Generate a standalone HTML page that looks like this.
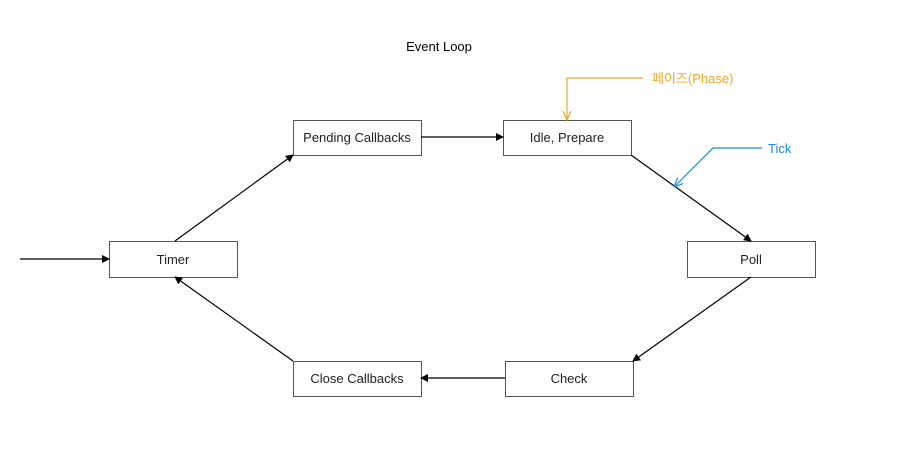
<!DOCTYPE html>
<html><head><meta charset="utf-8"><style>
body{margin:0;background:#fff;}
svg text{font-family:"Liberation Sans","Noto Sans CJK KR",sans-serif;}
</style></head><body>
<svg width="917" height="465" viewBox="0 0 917 465" xmlns="http://www.w3.org/2000/svg">
<defs>
<marker id="a" markerWidth="8" markerHeight="8" refX="7" refY="4" orient="auto" markerUnits="userSpaceOnUse"><path d="M0,0 L8,4 L0,8 z" fill="#000"/></marker>
<marker id="o" markerWidth="10" markerHeight="10" refX="9" refY="5" orient="auto" markerUnits="userSpaceOnUse"><path d="M0,1 L9,5 L0,9" fill="none" stroke="#f5a623" stroke-width="1.2"/></marker>
<marker id="b" markerWidth="10" markerHeight="10" refX="9" refY="5" orient="auto" markerUnits="userSpaceOnUse"><path d="M0,1 L9,5 L0,9" fill="none" stroke="#1e88e5" stroke-width="1.2"/></marker>
</defs>
<text x="439" y="51" font-size="13" text-anchor="middle" fill="#000">Event Loop</text>
<g fill="#fff" stroke="#555" stroke-width="1">
<rect x="293.5" y="120.5" width="128" height="35"/>
<rect x="503.5" y="120.5" width="128" height="35"/>
<rect x="109.5" y="241.5" width="128" height="36"/>
<rect x="687.5" y="241.5" width="128" height="36"/>
<rect x="293.5" y="361.5" width="128" height="35"/>
<rect x="505.5" y="361.5" width="128" height="35"/>
</g>
<g font-size="13" text-anchor="middle" fill="#222">
<text x="357" y="142">Pending Callbacks</text>
<text x="567" y="142">Idle, Prepare</text>
<text x="173" y="264">Timer</text>
<text x="751" y="264">Poll</text>
<text x="357" y="383">Close Callbacks</text>
<text x="569" y="383">Check</text>
</g>
<g stroke="#000" stroke-width="1.2" fill="none" marker-end="url(#a)">
<line x1="20" y1="259" x2="109" y2="259"/>
<line x1="175" y1="241" x2="293" y2="155"/>
<line x1="421" y1="137" x2="503" y2="137"/>
<line x1="631" y1="155" x2="751" y2="241"/>
<line x1="751" y1="277" x2="633" y2="361"/>
<line x1="505" y1="378" x2="421" y2="378"/>
<line x1="293" y1="361" x2="175" y2="277"/>
</g>
<polyline points="643,78 567,78 567,120" fill="none" stroke="#f5a623" stroke-width="1.2" marker-end="url(#o)"/>
<text x="652" y="83" font-size="13" fill="#f5a623">페이즈(Phase)</text>
<polyline points="762,148 713,148 674,187" fill="none" stroke="#1e88e5" stroke-width="1.2" marker-end="url(#b)"/>
<text x="768" y="153" font-size="13" fill="#1e88e5">Tick</text>
</svg>
</body></html>
